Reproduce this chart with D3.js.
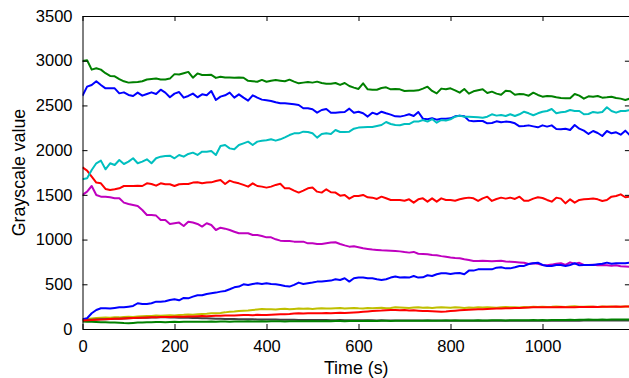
<!DOCTYPE html>
<html>
<head>
<meta charset="utf-8">
<script src="https://cdn.jsdelivr.net/npm/d3@7"></script>
<style>
  html, body { margin: 0; padding: 0; background: #fff; }
  svg { display: block; font-family: "Liberation Sans", Arial, Helvetica, sans-serif; }
</style>
</head>
<body>
<svg id="chart" width="629" height="378"></svg>
<script>
// ---- data (time in s, grayscale values) ----
const times = d3.range(0, 1200, 10);

const xTicks = [0, 200, 400, 600, 800, 1000];
const yTicks = [0, 500, 1000, 1500, 2000, 2500, 3000, 3500];
const xLabel = "Time (s)";
const yLabel = "Grayscale value";

const blueTop = [2609,2710,2729,2770,2729,2691,2691,2691,2635,2646,2617,2606,2643,2609,2628,2646,2628,2676,2643,2591,2632,2650,2587,2606,2632,2591,2624,2613,2661,2561,2598,2613,2643,2587,2624,2587,2553,2613,2587,2565,2557,
  2550,2535,2524,2524,2520,2513,2505,2468,2468,2457,2419,2449,2460,2419,2419,2423,2427,2464,2419,2430,2412,2375,2419,2401,2430,2412,2397,2378,2375,2386,2401,2382,2427,2352,2345,2356,2341,2352,2352,
  2356,2378,2386,2378,2330,2322,2326,2326,2300,2304,2322,2311,2319,2315,2300,2266,2270,2277,2266,2255,2277,2263,2277,2237,2233,2240,2225,2281,2240,2218,2181,2214,2192,2158,2214,2188,2199,2173,2218,2166];

const greenTop = [2997,3005,2900,2915,2900,2860,2830,2825,2795,2770,2755,2760,2762,2770,2790,2795,2800,2790,2790,2800,2850,2845,2860,2875,2810,2858,2840,2840,2842,2808,2820,2812,2812,2810,2812,2810,2775,2770,2765,2785,2765,
  2777,2785,2777,2770,2788,2766,2747,2755,2762,2755,2766,2751,2743,2743,2751,2729,2751,2717,2699,2684,2747,2680,2676,2676,2695,2702,2680,2684,2680,2662,2665,2665,2669,2688,2710,2662,2635,2688,2680,
  2691,2669,2643,2684,2632,2658,2669,2680,2639,2654,2632,2620,2665,2658,2620,2628,2624,2609,2643,2617,2598,2606,2602,2591,2583,2580,2580,2628,2609,2576,2602,2598,2606,2587,2591,2598,2583,2576,2561,2576];

const redTop = [1808,1771,1704,1637,1629,1566,1555,1562,1573,1599,1599,1599,1603,1599,1629,1622,1603,1629,1618,1618,1599,1618,1622,1622,1637,1640,1629,1637,1640,1655,1666,1622,1659,1640,1629,1611,1592,1629,1599,1592,1581,
  1592,1611,1625,1573,1573,1547,1525,1547,1573,1581,1536,1525,1562,1529,1525,1491,1499,1458,1487,1487,1499,1473,1469,1454,1480,1462,1443,1443,1443,1435,1450,1413,1450,1461,1424,1461,1424,1461,1443,
  1443,1435,1450,1461,1469,1461,1432,1461,1480,1432,1454,1469,1458,1469,1454,1480,1435,1435,1458,1473,1465,1443,1424,1469,1458,1405,1450,1413,1443,1450,1454,1458,1450,1432,1443,1480,1487,1506,1473,1480];

const cyan = [1674,1685,1778,1853,1883,1786,1853,1834,1890,1845,1871,1909,1853,1871,1898,1853,1909,1927,1935,1938,1909,1946,1927,1957,1972,1946,1983,1983,1991,1946,2046,2058,2020,2009,2058,2076,2095,2058,2095,2106,2110,
  2121,2106,2121,2143,2169,2188,2188,2207,2203,2188,2140,2181,2188,2181,2225,2203,2203,2207,2240,2252,2255,2259,2259,2270,2281,2315,2292,2281,2278,2292,2292,2319,2319,2337,2319,2348,2307,2337,2330,
  2345,2374,2386,2374,2374,2371,2367,2363,2374,2401,2386,2393,2382,2401,2382,2401,2430,2412,2390,2412,2430,2438,2460,2412,2423,2430,2449,2438,2438,2401,2404,2427,2419,2427,2479,2438,2419,2438,2438,2449];

const magenta = [1499,1536,1599,1499,1480,1480,1473,1462,1462,1413,1398,1387,1376,1331,1275,1275,1268,1219,1219,1175,1182,1190,1152,1200,1190,1175,1145,1182,1163,1107,1133,1122,1107,1088,1070,1070,1070,1051,1051,1040,1025,1025,1003,988,984,984,977,977,977,958,958,951,
  951,958,966,970,951,935,921,925,915,903,895,888,884,880,878,876,872,868,860,854,862,842,840,836,828,825,815,808,800,794,790,780,772,761,760,762,760,758,760,762,756,752,748,744,740,727,736,730,716,714,720,730,736,716,745,730,740,716,716,718,712,716,714,706,712,702,699,697];

const yellow = [109,112,118,122,125,128,126,131,130,134,137,135,140,143,146,145,150,148,152,155,
  150,156,158,162,160,165,168,170,175,176,180,186,194,196,202,205,208,213,218,224,
  220,222,218,224,226,222,225,228,226,230,224,228,232,230,228,232,234,228,232,236,
  232,230,235,232,236,238,233,236,243,240,238,236,240,242,237,241,236,240,243,240,
  238,242,240,236,241,238,243,240,244,241,238,243,246,242,244,240,246,244,248,245,
  250,246,248,252,250,247,252,255,250,248,252,250,246,251,249,253,250,248,252,250];

const gray = [100,102,104,106,108,110,112,114,116,118,120,122,124,125,126,128,128,130,130,128,
  128,126,127,125,124,122,120,119,118,116,115,113,112,111,110,109,108,108,107,106,
  106,105,105,104,104,103,103,102,102,101,101,100,100,100,99,99,100,98,99,98,
  98,97,98,97,96,97,96,96,95,96,95,95,94,95,94,94,95,94,93,94,
  93,94,93,93,92,93,92,93,92,92,93,92,91,92,92,91,92,91,92,91,
  91,92,91,92,93,92,93,94,93,94,95,94,95,94,95,96,95,96,95,96];

const blueLow = [109,120,176,213,232,232,228,236,243,243,250,258,288,280,280,288,306,306,310,325,332,321,347,343,362,377,377,392,399,407,418,425,444,466,474,500,492,504,511,504,
  511,504,500,493,481,474,493,519,504,511,519,530,530,537,541,556,548,567,530,567,575,575,567,567,556,548,556,575,586,575,578,575,593,575,578,601,593,612,623,623,
  615,623,626,612,653,653,667,667,667,667,686,690,678,678,690,705,705,727,735,742,716,705,705,716,716,705,716,735,712,716,716,716,724,730,742,730,735,735,735,742];

const greenLow = [85,82,80,78,76,75,74,72,70,66,64,68,72,74,76,75,77,78,76,78,
  80,79,81,80,82,81,80,82,83,82,84,83,82,84,85,84,86,85,84,86,
  85,86,87,86,85,87,88,87,86,88,89,88,87,89,88,90,89,88,90,89,
  90,89,91,90,89,91,92,90,91,92,93,92,91,93,92,94,93,92,94,95,
  94,95,96,95,94,96,97,96,95,97,98,97,96,98,99,98,97,99,100,99,
  100,99,101,100,102,101,103,102,104,103,105,104,103,105,104,106,105,107,106,108];

const redLow = [94,98,100,104,106,108,112,114,116,118,120,122,125,126,128,131,130,133,134,135,
  136,138,137,139,140,142,144,143,146,148,147,150,152,151,154,156,157,155,158,157,
  157,160,162,165,166,168,172,176,174,176,175,177,176,178,176,180,182,180,183,185,
  188,192,196,200,205,206,210,212,213,210,212,206,209,205,202,200,198,196,194,196,
  200,205,210,212,215,218,220,222,224,226,228,230,232,231,234,236,238,240,242,243,
  243,242,244,243,245,242,244,243,246,245,247,248,246,248,250,249,251,250,252,250];

const seriesList = [blueTop, greenTop, redTop, cyan, magenta, yellow, gray, blueLow, greenLow, redLow];
const seriesColors = ["#0000ff", "#008000", "#ff0000", "#00bfbf", "#bf00bf", "#bfbf00", "#404040", "#0000ff", "#008000", "#ff0000"];

// ---- layout ----
const svg = d3.select("#chart");
const L = 82.5, R = 629.9, T = 16, B = 329;
const x = d3.scaleLinear().domain([0, 1190]).range([L, R]);
const y = d3.scaleLinear().domain([0, 3500]).range([B, T]);

svg.append("defs").append("clipPath").attr("id", "plotclip")
  .append("rect").attr("x", L).attr("y", T - 2).attr("width", R - L).attr("height", B - T + 2);

const line = d3.line().x((d, i) => x(times[i])).y(d => y(d));

svg.append("g").attr("clip-path", "url(#plotclip)")
  .selectAll("path").data(seriesList).join("path")
  .attr("d", d => line(d))
  .attr("fill", "none")
  .attr("stroke", (d, i) => seriesColors[i])
  .attr("stroke-width", 2)
  .attr("stroke-linejoin", "round");

const fs = "16.5px";
const fsLabel = "17.8px";
const gx = svg.append("g").attr("transform", `translate(0,${B})`)
  .call(d3.axisBottom(x).tickValues(xTicks).tickSizeInner(-5).tickSizeOuter(0).tickPadding(11).tickFormat(d3.format("d")));
const gxt = svg.append("g").attr("transform", `translate(0,${T})`)
  .call(d3.axisTop(x).tickValues(xTicks).tickSizeInner(-5).tickSizeOuter(0).tickFormat(""));
const gy = svg.append("g").attr("transform", `translate(${L},0)`)
  .call(d3.axisLeft(y).tickValues(yTicks).tickSizeInner(-5).tickSizeOuter(0).tickPadding(10).tickFormat(d3.format("d")));
const gyr = svg.append("g").attr("transform", `translate(${R},0)`)
  .call(d3.axisRight(y).tickValues(yTicks).tickSizeInner(-5).tickSizeOuter(0).tickFormat(""));

[gx, gxt, gy, gyr].forEach(g => {
  g.selectAll(".domain").attr("stroke", "#000").attr("stroke-width", 1);
  g.selectAll(".tick line").attr("stroke", "#000").attr("stroke-width", 1);
  g.selectAll("text").attr("font-size", fs).attr("fill", "#000")
    .attr("font-family", "'Liberation Sans', Arial, sans-serif");
});

svg.append("text").attr("x", (L + R) / 2).attr("y", 374)
  .attr("text-anchor", "middle").attr("font-size", fsLabel).attr("fill", "#000")
  .text(xLabel);

svg.append("text").attr("transform", `translate(25,${(T + B) / 2}) rotate(-90)`)
  .attr("text-anchor", "middle").attr("font-size", fsLabel).attr("fill", "#000")
  .text(yLabel);
</script>
</body>
</html>
